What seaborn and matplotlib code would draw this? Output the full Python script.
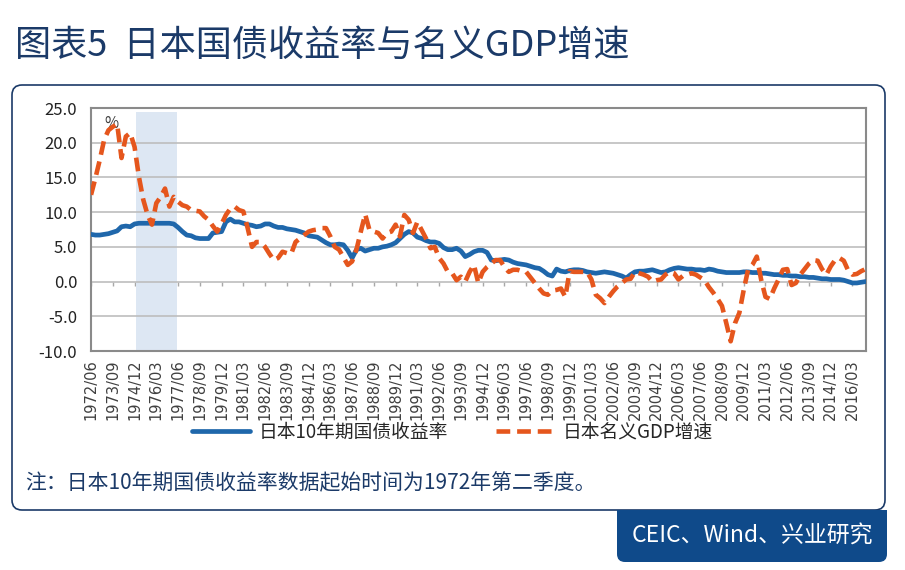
import matplotlib
matplotlib.use("Agg")
import matplotlib.pyplot as plt
import pandas as pd
import seaborn as sns
from matplotlib.patches import FancyBboxPatch, Rectangle

# quarterly categories, 1972Q2 .. 2016Q4
quarters = pd.period_range("1972Q2", "2016Q4", freq="Q")
quarter_labels = [f"{p.year}/{p.quarter * 3:02d}" for p in quarters]

# 日本10年期国债收益率 (%)
jgb_10y = [
    6.8, 6.7, 6.7, 6.8, 6.9, 7.1, 7.3, 7.9, 8.0, 7.9,
    8.3, 8.4, 8.4, 8.4, 8.4, 8.4, 8.4, 8.4, 8.4, 8.3,
    7.8, 7.2, 6.7, 6.6, 6.3, 6.2, 6.2, 6.2, 7.0, 7.1,
    7.2, 8.6, 9.0, 8.6, 8.6, 8.4, 8.2, 8.1, 7.9, 8.0,
    8.3, 8.3, 8.0, 7.8, 7.8, 7.6, 7.5, 7.4, 7.2, 7.0,
    6.6, 6.5, 6.4, 6.0, 5.6, 5.3, 5.3, 5.4, 5.3, 4.5,
    3.4, 4.6, 4.8, 4.4, 4.6, 4.8, 4.8, 5.0, 5.1, 5.3,
    5.6, 6.2, 6.8, 7.2, 7.0, 6.4, 6.2, 5.9, 5.7, 5.7,
    5.5, 4.9, 4.6, 4.6, 4.8, 4.4, 3.6, 3.9, 4.3, 4.5,
    4.5, 4.2, 3.1, 3.0, 3.1, 3.2, 3.1, 2.8, 2.6, 2.5,
    2.4, 2.2, 2.0, 1.9, 1.5, 1.0, 0.8, 1.8, 1.5, 1.4,
    1.6, 1.7, 1.7, 1.6, 1.4, 1.3, 1.2, 1.3, 1.4, 1.3,
    1.2, 1.0, 0.8, 0.5, 1.0, 1.4, 1.5, 1.5, 1.6, 1.7,
    1.5, 1.3, 1.4, 1.7, 1.9, 2.0, 1.9, 1.8, 1.8, 1.7,
    1.7, 1.6, 1.8, 1.7, 1.5, 1.4, 1.3, 1.3, 1.3, 1.3,
    1.4, 1.4, 1.3, 1.3, 1.2, 1.2, 1.1, 1.0, 1.0, 0.9,
    0.9, 0.8, 0.8, 0.7, 0.7, 0.6, 0.6, 0.5, 0.4, 0.4,
    0.3, 0.3, 0.3, 0.2, 0.0, -0.2, -0.2, -0.1, 0.0,
]

# 日本名义GDP增速 (%)
nominal_gdp = [
    12.5, 14.9, 17.5, 20.4, 21.8, 22.3, 22.7, 17.8, 20.9, 21.4,
    19.4, 15.1, 11.8, 9.6, 8.2, 11.3, 12.2, 13.4, 10.8, 12.2,
    11.5, 11.0, 10.8, 10.3, 10.2, 10.1, 9.4, 8.9, 8.0, 7.2,
    8.3, 9.6, 10.5, 10.8, 10.3, 10.1, 7.7, 5.0, 5.7, 5.7,
    5.0, 4.0, 3.1, 3.4, 4.3, 4.1, 4.0, 5.7, 6.2, 6.7,
    7.2, 7.4, 7.5, 7.7, 7.7, 6.5, 5.0, 4.6, 3.5, 2.4,
    2.9, 4.6, 7.2, 9.7, 7.4, 7.2, 7.0, 6.2, 7.0, 7.2,
    8.2, 6.5, 9.6, 8.9, 7.0, 8.6, 7.4, 6.2, 4.8, 5.0,
    3.4, 2.6, 1.4, 1.2, 0.2, 0.7, 0.0, 1.4, 2.4, -0.2,
    1.4, 2.1, 2.6, 3.1, 3.1, 2.1, 1.4, 1.7, 1.7, 1.5,
    1.4, 0.6, -0.2, -1.0, -1.7, -1.9, -1.3, -1.2, -1.0, -2.2,
    1.5, 1.4, 1.4, 1.4, 1.4, 0.3, -1.9, -2.4, -3.1, -2.2,
    -1.4, -0.7, -0.2, 0.3, 0.4, 1.4, 1.2, 1.0, 0.7, 0.0,
    0.2, 0.3, 1.0, 1.4, 1.2, 0.3, 0.8, 1.0, 1.2, 1.0,
    0.6, 0.2, -0.8, -1.6, -2.5, -3.5, -6.0, -8.6, -6.0, -4.5,
    -1.2, 1.7, 2.4, 3.6, 0.3, -2.2, -2.5, -1.0, 0.3, 1.7,
    1.8, -0.5, -0.2, 1.0, 1.8, 2.6, 3.1, 3.0, 1.8, 1.0,
    2.2, 3.1, 3.4, 3.0, 1.6, 1.0, 1.1, 1.5, 1.8,
]

series_names = ["日本10年期国债收益率", "日本名义GDP增速"]
shade_span = ("1974/12", "1977/03")
title_text = "图表5  日本国债收益率与名义GDP增速"
note_text = "注：日本10年期国债收益率数据起始时间为1972年第二季度。"
source_text = "CEIC、Wind、兴业研究"

BLUE = "#1F67AB"
ORANGE = "#E5561D"
NAVY = "#1B3A68"

df = pd.DataFrame({
    "quarter": quarter_labels,
    "pos": range(len(quarter_labels)),
    "jgb": jgb_10y,
    "gdp": nominal_gdp,
})

sns.set_style("white")
plt.rcParams["font.family"] = ["Noto Sans CJK SC", "DejaVu Sans"]
plt.rcParams["axes.unicode_minus"] = False

fig = plt.figure(figsize=(9.05, 5.7), dpi=100)
ax = fig.add_axes([0.1006, 0.3842, 0.8558, 0.4263])

# shaded period
s0 = quarter_labels.index(shade_span[0])
s1 = quarter_labels.index(shade_span[1])
ax.axvspan(s0 + 0.4, s1 + 0.7, ymax=0.983, color="#DDE7F3", lw=0, zorder=0.3)

sns.lineplot(data=df, x="pos", y="jgb", color=BLUE, lw=3.4, ax=ax,
             label=series_names[0], zorder=3)
sns.lineplot(data=df, x="pos", y="gdp", color=ORANGE, lw=3.3, ax=ax,
             linestyle=(0, (3.0, 1.5)), label=series_names[1], zorder=4)

ax.set_xlim(0, len(quarter_labels) - 1)
ax.set_ylim(-10, 25)
ax.set_xlabel("")
ax.set_ylabel("")

ax.set_yticks(range(-10, 26, 5))
ax.set_yticklabels([f"{v:.1f}" for v in range(-10, 26, 5)], fontsize=12, color="#222222")
tick_pos = list(range(0, len(quarter_labels), 5))
ax.set_xticks(tick_pos)
ax.set_xticklabels([quarter_labels[i] for i in tick_pos], rotation=90,
                   fontsize=10.5, color="#404040", family="DejaVu Sans")
ax.tick_params(axis="both", length=0)
ax.tick_params(axis="y", pad=10)
ax.tick_params(axis="x", pad=6)

ax.set_axisbelow(True)
ax.yaxis.grid(True, color="#BDBDBD", lw=1.2)
for sp in ax.spines.values():
    sp.set_color("#8A8A8A")
    sp.set_linewidth(1.5)

# category tick marks sit on the zero line
sec = ax.secondary_xaxis((0 - (-10)) / 35)
sec.set_xticks(tick_pos)
sec.set_xticklabels([])
sec.tick_params(direction="out", length=3, color="#A8A8A8", width=1)
sec.spines["bottom"].set_visible(False)

ax.text(0.017, 0.935, "%", transform=ax.transAxes, fontsize=11,
        color="#404040", ha="left", va="center")

handles, labels = ax.get_legend_handles_labels()
ax.get_legend().remove()
fig.legend(handles, labels, loc="center", bbox_to_anchor=(0.5, 0.242), ncol=2,
           frameon=False, fontsize=13.5, handlelength=3.1, handletextpad=0.45,
           columnspacing=2.6)

# frame, title, note and source box
frame = FancyBboxPatch((0.12, 0.60), 8.73, 4.25,
                       boxstyle="round,pad=0,rounding_size=0.1",
                       transform=fig.dpi_scale_trans, fc="none", ec=NAVY, lw=1.2)
fig.add_artist(frame)

fig.text(15 / 905, 1 - 46 / 570, title_text, fontsize=26, color=NAVY,
         ha="left", va="center", weight="medium")
fig.text(25 / 905, 1 - 483 / 570, note_text, fontsize=15, color=NAVY,
         ha="left", va="center", weight="medium")

src = FancyBboxPatch((6.17, 0.08), 2.70, 0.52,
                     boxstyle="round,pad=0,rounding_size=0.08",
                     transform=fig.dpi_scale_trans, fc="#0F4A8A", ec="none")
fig.add_artist(src)
fig.add_artist(Rectangle((6.17, 0.34), 2.70, 0.26, transform=fig.dpi_scale_trans,
                         fc="#0F4A8A", ec="none"))
fig.text(752 / 905, 34 / 570, source_text, fontsize=16.5, color="white",
         ha="center", va="center")

fig.savefig("out.png", dpi=100)
